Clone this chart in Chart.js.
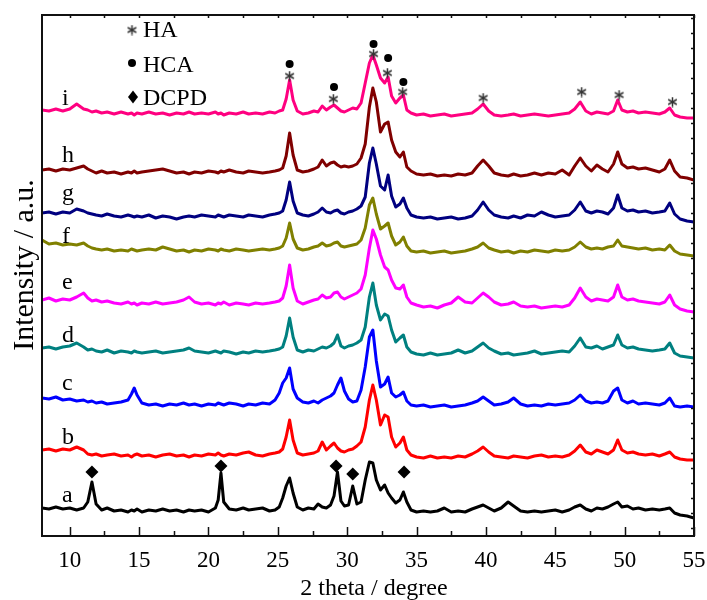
<!DOCTYPE html>
<html><head><meta charset="utf-8">
<script src="https://cdn.jsdelivr.net/npm/chart.js@4.4.1/dist/chart.umd.min.js"></script>
<style>html,body{margin:0;padding:0;background:#fff}canvas{display:block}</style>
</head><body>
<canvas id="c" width="707" height="600"></canvas>
<script>
// ---- data (2θ in degree, intensity in a.u. relative to each trace's offset) ----
const twoTheta = [
  8.0, 8.5, 9.0, 9.5, 10.0, 10.5, 11.0, 11.3, 11.6, 11.9,
  12.3, 12.7, 13.2, 13.7, 14.2, 14.45, 14.65, 14.85, 15.2, 15.7,
  16.2, 16.7, 17.2, 17.7, 18.2, 18.6, 19.0, 19.5, 20.0, 20.5,
  20.7, 20.9, 21.1, 21.5, 22.0, 22.5, 22.9, 23.4, 23.9, 24.4,
  24.8, 25.1, 25.35, 25.6, 25.85, 26.1, 26.4, 26.8, 27.2, 27.6,
  27.9, 28.2, 28.5, 28.8, 29.05, 29.3, 29.55, 29.8, 30.1, 30.4,
  30.7, 31.0, 31.3, 31.6, 31.85, 32.1, 32.4, 32.7, 32.95, 33.2,
  33.5, 33.8, 34.05, 34.3, 34.6, 35.0, 35.5, 36.0, 36.5, 37.0,
  37.5, 38.0, 38.5, 39.0, 39.4, 39.8, 40.2, 40.6, 41.1, 41.6,
  42.0, 42.5, 43.0, 43.5, 44.0, 44.5, 45.0, 45.5, 46.0, 46.4,
  46.8, 47.2, 47.6, 48.0, 48.4, 48.8, 49.2, 49.5, 49.8, 50.2,
  50.6, 51.0, 51.5, 52.0, 52.5, 52.9, 53.25, 53.6, 54.0, 54.5,
  55.0];

const sampleNames = ['a','b','c','d','e','f','g','h','i'];
const sampleOffsets = [26, 81, 133, 184, 233, 286, 320, 364, 423];

const seriesA = [
  2, 1, 3, 1, 2, 0, 2, 8, 28, 6,
  0, 2, -1, 0, -2, 0, -1, 1, -2, 0,
  -1, 1, -1, 0, -2, 0, -1, 0, -2, 2,
  10, 37, 8, 1, 0, 2, 0, 1, 2, -1,
  0, 3, 12, 24, 32, 17, 3, 0, 2, 1,
  6, 3, 2, 5, 14, 38, 9, 4, 5, 24,
  6, 8, 30, 48, 47, 30, 20, 25, 17, 12,
  7, 10, 18, 8, 0, -2, -1, -2, -1, 2,
  -2, -1, -2, 1, 3, 5, 2, -1, 2, 8,
  4, -1, -2, -1, -2, -1, 0, -2, 0, 3,
  5, 1, -1, 2, 1, 3, 6, 8, 3, 4,
  1, 2, 0, 1, 0, 1, 2, -3, -5, -6,
  -8];
const seriesB = [
  5, 6, 4, 6, 5, 8, 5, 1, 0, 1,
  -1, 0, 1, -1, 0, -2, 0, 1, -1, 0,
  -2, 0, 1, -1, 0, -2, 0, -1, 1, 0,
  2, 0, -1, 1, 0, 2, 3, 0, -1, 1,
  2, 3, 6, 18, 35, 15, 2, 0, 1, 2,
  4, 13, 5, 9, 12, 7, 4, 3, 5, 6,
  9, 13, 28, 55, 70, 55, 30, 40, 38, 18,
  8, 12, 18, 5, 0, -2, -3, -1, -3, -2,
  -3, -1, -2, 1, 4, 8, 3, -1, -2, -3,
  -1, -2, -3, -1, 0, -2, -1, -2, 0, 4,
  10, 3, 1, 5, 3, 1, 5, 15, 5, 2,
  3, 1, 0, 1, -1, 1, 3, -2, -4, -5,
  -5];
const seriesC = [
  5, 4, 6, 3, 4, 2, 3, 1, 2, 0,
  1, -1, 0, 1, 3, 9, 15, 8, 0, -2,
  -1, -3, -1, -2, 0, -2, -1, -3, -1, -2,
  0, -1, -2, 0, -1, -3, -1, -2, 0, -1,
  3, 10, 20, 25, 35, 14, 5, 1, 0, 2,
  0, 3, 5, 7, 10, 18, 25, 12, 4, 1,
  2, 13, 36, 66, 73, 42, 16, 19, 26, 10,
  6, 8, 11, 2, -2, -3, -2, -4, -3, -2,
  -4, -3, -2, 0, 2, 6, 2, -2, -1, 1,
  5, -1, -3, -2, -3, -1, -2, -1, 0, 3,
  8, 2, 0, 1, 0, 2, 12, 15, 3, 0,
  2, -1, 0, -1, -2, 0, 5, -3, -4, -3,
  -4];
const seriesD = [
  4, 5, 3, 5, 6, 9, 5, 2, 3, 1,
  0, 2, -1, 1, 0, -1, 1, 0, -1, 0,
  1, -1, 0, 1, 2, 4, 1, 0, -1, 1,
  0, -1, 1, 0, -2, 0, -1, 1, 0, 1,
  2, 3, 5, 16, 34, 15, 2, 0, 2, 1,
  3, 5, 4, 6, 9, 17, 6, 4, 6, 7,
  9, 12, 25, 55, 69, 47, 32, 38, 36, 22,
  10, 14, 17, 5, 0, -2, -3, -1, -3, -2,
  -1, 2, -1, 1, 5, 9, 4, 1, -2, -1,
  -3, -2, -1, 1, -2, -1, 0, 1, 0, 6,
  14, 5, 4, 6, 3, 5, 7, 17, 7, 4,
  5, 3, 2, 1, 2, 3, 9, -1, -4, -5,
  -6];
const seriesE = [
  3, 5, 2, 4, 3, 6, 10, 5, 2, 3,
  1, 2, 0, -1, 1, -1, 0, -2, 0, -1,
  1, -1, 0, 1, 3, 6, 1, -1, 0, -2,
  0, -1, 1, -2, 0, -1, -2, 0, -1, 0,
  1, 2, 5, 17, 38, 15, 2, -1, 1, 3,
  4, 8, 5, 6, 10, 11, 6, 4, 6, 8,
  10, 14, 28, 55, 73, 64, 48, 36, 33, 23,
  15, 14, 18, 6, 0, -2, -4, -3, -5, -2,
  0, 6, 1, 0, 5, 10, 6, 1, -2, -1,
  1, -3, -4, -3, -5, -4, -3, -4, -2, 5,
  15, 6, 2, 4, 3, 2, 6, 18, 6, 3,
  4, 2, 1, 0, -1, 1, 8, -2, -6, -8,
  -9];
const seriesF = [
  10, 6, 7, 5, 6, 5, 7, 4, 2, 1,
  0, 1, -1, 0, -1, 1, 0, -1, 0, 1,
  0, 3, 1, -1, 0, -2, 0, -1, 1, 0,
  -1, 1, 0, -1, 1, 0, -1, 0, 1, 0,
  1, 2, 4, 12, 27, 11, 2, 0, 1, 3,
  4, 7, 4, 5, 7, 8, 4, 3, 4, 5,
  6, 10, 22, 45, 52, 36, 21, 24, 27, 14,
  5, 8, 13, 4, -1, -2, -1, -3, -2, -1,
  -3, -2, -1, 1, 3, 7, 2, 0, -2, -1,
  -3, -1, -2, 0, -1, -2, 0, -1, 0, 3,
  8, 3, 1, 2, 1, 3, 4, 10, 4, 3,
  2, 1, 2, 0, 1, 0, 5, -1, -4, -5,
  -6];
const seriesG = [
  3, 4, 2, 4, 3, 7, 5, 3, 2, 1,
  0, 2, 0, -1, 1, 0, -1, 0, -1, 1,
  -2, 0, -1, -3, -1, 0, -1, 1, 0, -1,
  1, 0, -1, 1, 0, -1, 1, 0, -1, 1,
  2, 3, 5, 16, 34, 15, 3, 1, 0, 2,
  4, 8, 4, 3, 5, 6, 3, 2, 4, 5,
  7, 10, 19, 53, 68, 52, 30, 26, 41, 20,
  9, 12, 18, 8, 1, -1, -2, -1, -3, -2,
  -1, -3, -2, 0, 6, 14, 6, 1, -1, -2,
  0, -2, 1, 0, 4, 1, -1, 0, 1, 6,
  14, 5, 3, 5, 4, 2, 8, 21, 8, 5,
  6, 4, 5, 3, 4, 5, 13, 2, -3, -5,
  -6];
const seriesH = [
  2, 3, 1, 3, 2, 4, 6, 3, 1, -1,
  1, -1, 0, -2, 0, -1, 1, -1, 0, 1,
  2, 3, 1, -1, 0, -2, 0, -1, 1, 0,
  -1, 1, 0, 2, 0, -1, 1, 0, -1, 0,
  1, 2, 4, 16, 39, 17, 2, 0, 1, 3,
  5, 12, 6, 9, 10, 7, 5, 6, 5, 6,
  8, 14, 28, 65, 84, 70, 40, 48, 50, 32,
  20, 15, 20, 5, 1, -2, -3, -2, -4, -3,
  -4, -2, -3, -1, 6, 12, 6, -1, -3, -4,
  -2, -4, -3, -1, -3, -1, -2, 2, -3, 6,
  14, 6, 1, 7, 3, 0, 8, 20, 8, 4,
  5, 3, 4, 2, 0, 3, 12, 1, -5, -6,
  -8];
const seriesI = [
  3, 2, 4, 2, 4, 9, 4, 3, 1, 2,
  0, 1, -1, 1, -1, 0, -2, 0, -1, 1,
  -1, 0, -2, 0, -1, 1, -1, 0, -1, 1,
  -1, 0, -2, 0, -1, 1, -1, 0, -1, 1,
  0, 2, 3, 14, 33, 13, 2, -1, 0, 2,
  1, 7, 3, 6, 8, 5, 2, 1, 3, 5,
  4, 10, 30, 50, 58, 48, 35, 30, 36, 17,
  10, 15, 18, 3, 0, -2, -1, -3, -2, -1,
  -3, -2, -1, 0, 4, 9, 2, -2, -3, -2,
  -1, -3, -2, -1, -2, -3, -2, -1, 0, 4,
  11, 2, -1, 1, 0, -1, 2, 13, 3, 1,
  2, 0, 1, 0, -1, 1, 5, -2, -4, -5,
  -5];

// phase markers (2θ, a.u. on the stacked scale)
const haX   = [25.85, 29.0, 31.9, 32.9, 34.0, 39.8, 46.9, 49.6, 53.45];
const haY   = [460, 437, 482, 463, 444, 438, 444, 441, 434];
const hcaX  = [25.85, 29.05, 31.9, 32.95, 34.05];
const hcaY  = [472, 449, 492, 478, 454];
const dcpdX = [11.6, 20.9, 29.2, 30.4, 34.1];
const dcpdY = [64, 70, 70, 62, 64];

const xTickLabels = [10, 15, 20, 25, 30, 35, 40, 45, 50, 55];
const xMinorTicks = [12.5, 17.5, 22.5, 27.5, 32.5, 37.5, 42.5, 47.5, 52.5];

// ---- styles / layout ----
const seriesColors = ['#000000', '#FF0000', '#0000FF', '#008080', '#FF00FF', '#808000', '#000080', '#800000', '#FF0080'];
const labelAnchors = [34, 92, 146, 194, 247, 293, 336, 374, 431]; // label baselines on y scale
const SERIF = "'Liberation Serif', 'Times New Roman', serif";
Chart.defaults.font.family = SERIF;
Chart.defaults.color = '#000';

function makeAsterisk(size, color, lw) {
  const c = document.createElement('canvas');
  c.width = size; c.height = size;
  const g = c.getContext('2d');
  g.strokeStyle = color; g.lineWidth = lw;
  const r = size / 2 - 0.5, cx = size / 2, cy = size / 2;
  [90, 30, 150].forEach(d => {
    const a = d * Math.PI / 180;
    g.beginPath();
    g.moveTo(cx - r * Math.cos(a), cy - r * Math.sin(a));
    g.lineTo(cx + r * Math.cos(a), cy + r * Math.sin(a));
    g.stroke();
  });
  return c;
}
const asterisk = makeAsterisk(11, '#333', 1.5);

const allSeries = [seriesA, seriesB, seriesC, seriesD, seriesE, seriesF, seriesG, seriesH, seriesI];
const traceSets = allSeries.map((vals, s) => ({
  label: sampleNames[s],
  data: twoTheta.map((t, k) => ({ x: t, y: sampleOffsets[s] + vals[k] })),
  borderColor: seriesColors[s],
  borderWidth: 3,
  pointRadius: 0,
  tension: 0,
  fill: false,
  borderJoinStyle: 'round',
  order: 1
}));
const markerSets = [
  { label: 'HA', type: 'scatter', data: haX.map((x, k) => ({ x, y: haY[k] })), pointStyle: asterisk, pointRadius: 6, showLine: false, order: 0 },
  { label: 'HCA', type: 'scatter', data: hcaX.map((x, k) => ({ x, y: hcaY[k] })), pointStyle: 'circle', pointRadius: 4, backgroundColor: '#000', borderColor: '#000', borderWidth: 0, showLine: false, order: 0 },
  { label: 'DCPD', type: 'scatter', data: dcpdX.map((x, k) => ({ x, y: dcpdY[k] })), pointStyle: 'rectRot', pointRadius: 6.5, backgroundColor: '#000', borderColor: '#000', borderWidth: 0, showLine: false, order: 0 }
];

const decor = {
  id: 'decor',
  afterDraw(chart) {
    const { ctx, chartArea: ca, scales: { x: xs, y: ys } } = chart;
    ctx.save();
    // frame
    ctx.strokeStyle = '#111'; ctx.lineWidth = 2;
    ctx.strokeRect(ca.left, ca.top, ca.right - ca.left, ca.bottom - ca.top);
    ctx.lineWidth = 1.5;
    ctx.beginPath();
    xTickLabels.forEach(v => { const px = Math.round(xs.getPixelForValue(v)) + 0.5; ctx.moveTo(px, ca.bottom); ctx.lineTo(px, ca.bottom - 9); ctx.moveTo(px, ca.top); ctx.lineTo(px, ca.top + 3); });
    xMinorTicks.forEach(v => { const px = Math.round(xs.getPixelForValue(v)) + 0.5; ctx.moveTo(px, ca.bottom); ctx.lineTo(px, ca.bottom - 5); ctx.moveTo(px, ca.top); ctx.lineTo(px, ca.top + 3); });
    for (let v = 8; v < ys.max; v += 15) { const py = Math.round(ys.getPixelForValue(v)) + 0.5; ctx.moveTo(ca.right, py); ctx.lineTo(ca.right - 3, py); }
    ctx.stroke();
    // sample labels
    ctx.fillStyle = '#000';
    ctx.font = '24px ' + SERIF;
    ctx.textAlign = 'left'; ctx.textBaseline = 'alphabetic';
    sampleNames.forEach((n, s) => ctx.fillText(n, xs.getPixelForValue(9.45), ys.getPixelForValue(labelAnchors[s])));
    // legend
    const lx = ca.left + 90;
    ctx.drawImage(asterisk, lx - asterisk.width / 2, ca.top + 15 - asterisk.height / 2);
    ctx.beginPath(); ctx.arc(lx, ca.top + 48, 4, 0, Math.PI * 2); ctx.fill();
    ctx.beginPath();
    ctx.moveTo(lx + 1, ca.top + 75.5); ctx.lineTo(lx + 6, ca.top + 82); ctx.lineTo(lx + 1, ca.top + 88.5); ctx.lineTo(lx - 4, ca.top + 82); ctx.closePath(); ctx.fill();
    ctx.fillText('HA', lx + 11, ca.top + 22);
    ctx.fillText('HCA', lx + 11, ca.top + 57);
    ctx.fillText('DCPD', lx + 11, ca.top + 90);
    // axis titles
    ctx.textAlign = 'center';
    ctx.fillText('2 theta / degree', 374, 595);
    ctx.translate(33, 265); ctx.rotate(-Math.PI / 2);
    ctx.font = '30px ' + SERIF;
    ctx.fillText('Intensity / a.u.', 0, 0);
    ctx.restore();
  }
};

new Chart(document.getElementById('c'), {
  type: 'line',
  data: { datasets: [...markerSets, ...traceSets] },
  options: {
    responsive: false,
    animation: false,
    devicePixelRatio: 1,
    layout: { padding: { top: 15, right: 13, left: 0, bottom: 0 } },
    plugins: { legend: { display: false }, tooltip: { enabled: false } },
    scales: {
      x: {
        type: 'linear', min: 8, max: 55, position: 'bottom',
        grid: { display: false }, border: { display: false },
        ticks: { font: { size: 23, family: SERIF }, color: '#000', padding: 3, autoSkip: false, maxRotation: 0 },
        afterBuildTicks: sc => { sc.ticks = xTickLabels.map(v => ({ value: v })); },
        afterFit: sc => { sc.height = 64; sc.paddingLeft = 0; sc.paddingRight = 0; }
      },
      y: {
        type: 'linear', min: 0, max: 521,
        grid: { display: false }, border: { display: false },
        ticks: { display: false },
        afterFit: sc => { sc.width = 42; }
      }
    }
  },
  plugins: [decor]
});
</script></body></html>
